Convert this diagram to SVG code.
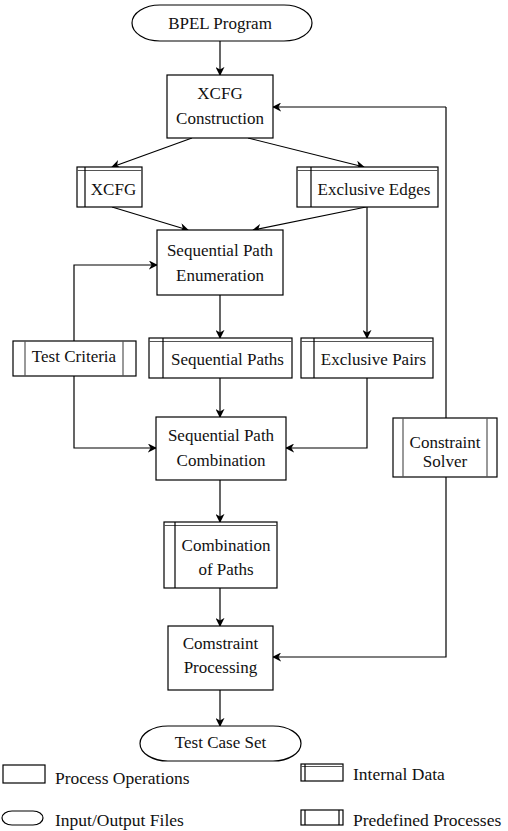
<svg xmlns="http://www.w3.org/2000/svg" width="508" height="831" viewBox="0 0 508 831" font-family="'Liberation Serif', 'Times New Roman', 'DejaVu Serif', serif">
  <style>
    .box { fill: #fff; stroke: #000; stroke-width: 1.2; }
    .dbl { fill: none; stroke: #555; stroke-width: 1.2; }
    .term { fill: #fff; stroke: #000; stroke-width: 1.2; }
    .edge { fill: none; stroke: #000; stroke-width: 1.2; }
    text { font-family: 'Liberation Serif', 'Times New Roman', 'DejaVu Serif', serif; font-size: 17px; fill: #111; text-anchor: middle; }
    .legend text { text-anchor: start; font-size: 17.5px; }
  </style>
  <defs>
    <marker id="arrow" viewBox="0 0 10 10" refX="9" refY="5" markerWidth="9" markerHeight="9" markerUnits="userSpaceOnUse" orient="auto">
      <path d="M0,0 L10,5 L0,10 L3,5 z" fill="#000"/>
    </marker>
  </defs>

  <!-- connectors -->
  <g id="connectors">
    <line class="edge" x1="220" y1="41" x2="220" y2="75" marker-end="url(#arrow)"/>
    <line class="edge" x1="192" y1="138" x2="112" y2="167" marker-end="url(#arrow)"/>
    <line class="edge" x1="248" y1="138" x2="364" y2="167" marker-end="url(#arrow)"/>
    <line class="edge" x1="112" y1="207" x2="188" y2="230" marker-end="url(#arrow)"/>
    <line class="edge" x1="366" y1="207" x2="253" y2="230" marker-end="url(#arrow)"/>
    <polyline class="edge" points="367,207 367,338" marker-end="url(#arrow)"/>
    <polyline class="edge" points="74,341 74,265 157,265" marker-end="url(#arrow)"/>
    <line class="edge" x1="220" y1="295" x2="220" y2="338" marker-end="url(#arrow)"/>
    <line class="edge" x1="220" y1="378" x2="220" y2="417" marker-end="url(#arrow)"/>
    <polyline class="edge" points="74,376 74,448 156,448" marker-end="url(#arrow)"/>
    <polyline class="edge" points="367,378 367,448 286,448" marker-end="url(#arrow)"/>
    <line class="edge" x1="220" y1="480" x2="220" y2="522" marker-end="url(#arrow)"/>
    <line class="edge" x1="220" y1="588" x2="220" y2="626" marker-end="url(#arrow)"/>
    <line class="edge" x1="220" y1="690" x2="220" y2="726" marker-end="url(#arrow)"/>
    <!-- feedback loop through the constraint solver -->
    <polyline class="edge" points="446,107 446,657 273,657" marker-end="url(#arrow)"/>
    <line class="edge" x1="446" y1="107" x2="273" y2="107" marker-end="url(#arrow)"/>
  </g>

  <g id="bpel-program">
    <rect class="term" x="132" y="5" width="180" height="36" rx="28" ry="18"/>
    <text x="220" y="29">BPEL Program</text>
  </g>

  <g id="xcfg-construction">
    <rect class="box" x="167" y="75" width="106" height="63"/>
    <text x="220" y="99">XCFG</text>
    <text x="220" y="124">Construction</text>
  </g>

  <g id="xcfg">
    <rect class="box" x="77" y="167" width="65" height="40"/>
    <line class="dbl" x1="77" y1="170.5" x2="142" y2="170.5"/>
    <line class="edge" x1="85" y1="167" x2="85" y2="207"/>
    <text x="113.5" y="195">XCFG</text>
  </g>

  <g id="exclusive-edges">
    <rect class="box" x="297" y="167" width="141" height="40"/>
    <line class="dbl" x1="297" y1="170.5" x2="438" y2="170.5"/>
    <line class="edge" x1="311" y1="167" x2="311" y2="207"/>
    <text x="374" y="195">Exclusive Edges</text>
  </g>

  <g id="sequential-path-enumeration">
    <rect class="box" x="157" y="230" width="126" height="65"/>
    <text x="220" y="256">Sequential Path</text>
    <text x="220" y="281">Enumeration</text>
  </g>

  <g id="test-criteria">
    <rect class="box" x="13" y="341" width="123" height="35"/>
    <line class="dbl" x1="25" y1="341" x2="25" y2="376"/>
    <line class="dbl" x1="123" y1="341" x2="123" y2="376"/>
    <text x="74" y="362">Test Criteria</text>
  </g>

  <g id="sequential-paths">
    <rect class="box" x="149" y="338" width="143" height="40"/>
    <line class="dbl" x1="149" y1="341.5" x2="292" y2="341.5"/>
    <line class="edge" x1="163" y1="338" x2="163" y2="378"/>
    <text x="227.5" y="365">Sequential Paths</text>
  </g>

  <g id="exclusive-pairs">
    <rect class="box" x="301" y="338" width="132" height="40"/>
    <line class="dbl" x1="301" y1="341.5" x2="433" y2="341.5"/>
    <line class="edge" x1="314" y1="338" x2="314" y2="378"/>
    <text x="373.5" y="365">Exclusive Pairs</text>
  </g>

  <g id="sequential-path-combination">
    <rect class="box" x="156" y="417" width="130" height="63"/>
    <text x="221" y="441">Sequential Path</text>
    <text x="221" y="466">Combination</text>
  </g>

  <g id="constraint-solver">
    <rect class="box" x="393" y="418" width="104" height="59"/>
    <line class="dbl" x1="403" y1="418" x2="403" y2="477"/>
    <line class="dbl" x1="487" y1="418" x2="487" y2="477"/>
    <text x="445" y="448">Constraint</text>
    <text x="445" y="467">Solver</text>
  </g>

  <g id="combination-of-paths">
    <rect class="box" x="164" y="522" width="113" height="66"/>
    <line class="dbl" x1="164" y1="525.5" x2="277" y2="525.5"/>
    <line class="edge" x1="175" y1="522" x2="175" y2="588"/>
    <text x="226" y="551">Combination</text>
    <text x="226" y="575">of Paths</text>
  </g>

  <g id="constraint-processing">
    <rect class="box" x="168" y="626" width="105" height="64"/>
    <text x="220.5" y="649">Comstraint</text>
    <text x="220.5" y="673">Processing</text>
  </g>

  <g id="test-case-set">
    <rect class="term" x="140" y="726" width="161" height="35" rx="28" ry="17.5"/>
    <text x="220.5" y="748">Test Case Set</text>
  </g>

  <!-- legend -->
  <g id="legend" class="legend">
    <rect class="box" x="3" y="765" width="42" height="18"/>
    <text x="55" y="784">Process Operations</text>

    <rect class="term" x="2" y="811" width="41" height="14" rx="10" ry="7"/>
    <text x="55" y="826">Input/Output Files</text>

    <rect class="box" x="301" y="764" width="42" height="17"/>
    <line class="dbl" x1="301" y1="766.5" x2="343" y2="766.5"/>
    <line class="edge" x1="305" y1="764" x2="305" y2="781"/>
    <text x="353" y="780">Internal Data</text>

    <rect class="box" x="301" y="810" width="42" height="15"/>
    <line class="edge" x1="305" y1="810" x2="305" y2="825"/>
    <line class="edge" x1="339" y1="810" x2="339" y2="825"/>
    <text x="353" y="826">Predefined Processes</text>
  </g>
</svg>
